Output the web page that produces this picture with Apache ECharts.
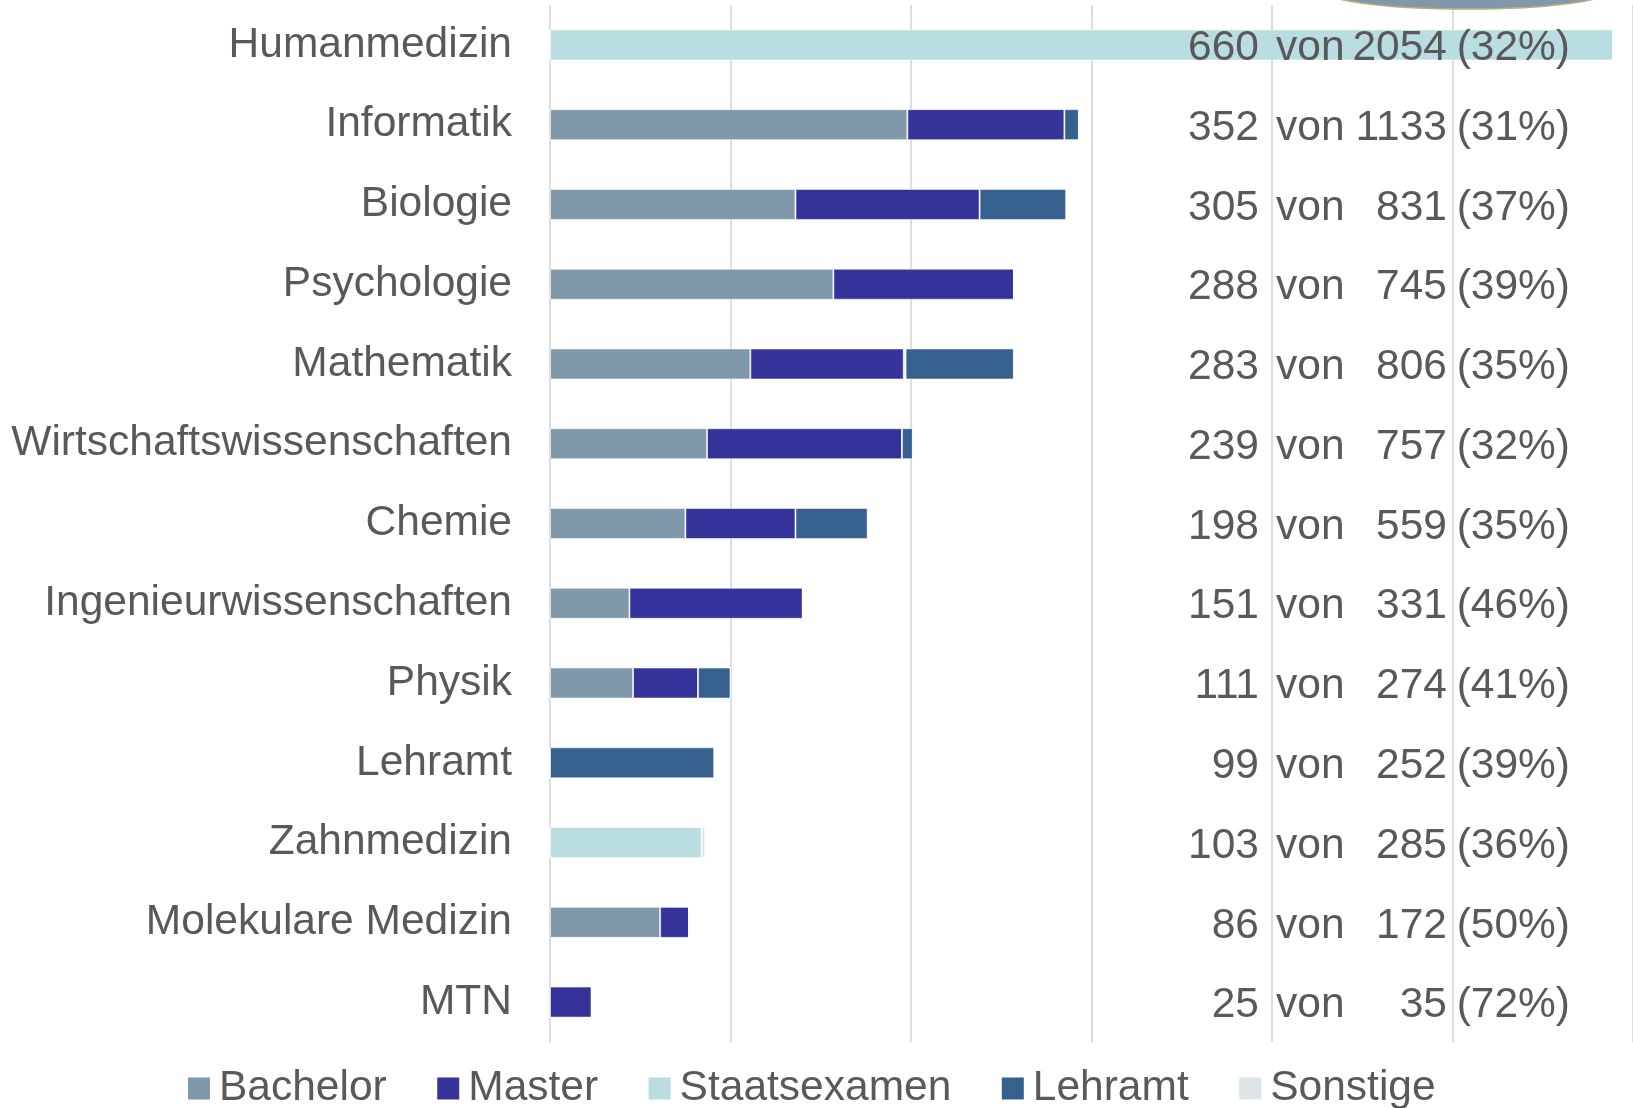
<!DOCTYPE html>
<html>
<head>
<meta charset="utf-8">
<script src="https://cdn.jsdelivr.net/npm/echarts@6/dist/echarts.min.js"></script>
<style>html,body{margin:0;padding:0;background:#fff;} #main{width:1633px;height:1108px;}</style>
</head>
<body>
<div id="main"></div>
<script>
var faecher = ['Humanmedizin', 'Informatik', 'Biologie', 'Psychologie', 'Mathematik', 'Wirtschaftswissenschaften', 'Chemie', 'Ingenieurwissenschaften', 'Physik', 'Lehramt', 'Zahnmedizin', 'Molekulare Medizin', 'MTN'];
var bachelor     = [0, 198, 136, 157, 111, 87, 75, 44, 46, 0, 0, 61, 0];
var master       = [0, 87, 102, 100, 85, 108, 61, 96, 36, 0, 0, 16, 23];
var staatsexamen = [589, 0, 0, 0, 1, 0, 0, 0, 0, 0, 84, 0, 0];
var lehramt      = [0, 8, 48, 0, 60, 6, 40, 0, 18, 91, 0, 0, 0];
var sonstige     = [0, 0, 0, 0, 0, 0, 0, 0, 0, 0, 2, 0, 0];
var anzahl = [660, 352, 305, 288, 283, 239, 198, 151, 111, 99, 103, 86, 25];
var gesamt = [2054, 1133, 831, 745, 806, 757, 559, 331, 274, 252, 285, 172, 35];
var prozent = [32, 31, 37, 39, 35, 32, 35, 46, 41, 39, 36, 50, 72];

var textColor = '#595959';
var fontName = '"Liberation Sans", Arial, sans-serif';
var fs = 42.5;

var chart = echarts.init(document.getElementById('main'));

function balken(name, data, color) {//ein gestapelter Balken
    return {name: name, type: 'bar', stack: 'alle', data: data, barWidth: 31, yAxisIndex: 0,
        itemStyle: {color: color, borderColor: 'rgba(255,255,255,0.55)', borderWidth: 1}};
}

function rechteAchse(margin, formatter, rich) {//Textspalten rechts, als Achsenbeschriftung
    return {type: 'category', data: faecher, inverse: true, position: 'right', z: 10, axisTick: {show: false}, axisLine: {show: false},
        axisLabel: {inside: true, margin: margin, fontSize: fs, color: textColor, fontFamily: fontName, padding: [7, 0, 0, 0],
            formatter: formatter, rich: rich}};
}

option = {
    animation: false,
    textStyle: {fontFamily: fontName},
    grid: {left: 550, top: 5, width: 1086, height: 1037},
    xAxis: {type: 'value', min: 0, max: 600, interval: 100, axisLabel: {show: false}, axisLine: {show: false}, axisTick: {show: false},
        splitLine: {lineStyle: {color: '#d6d6d6', width: 1.6}}},
    yAxis: [
        {type: 'category', data: faecher, inverse: true, axisTick: {show: false}, axisLine: {show: false},
            axisLabel: {margin: 38, fontSize: fs, color: textColor, fontFamily: fontName, padding: [8, 0, 0, 0]}},
        rechteAchse(374, function (v, i) { return '' + anzahl[i]; }, {}),
        rechteAchse(63, function (v, i) {
            return '{b|von}{c|' + gesamt[i] + '}{d|(' + prozent[i] + '%)}';
        }, {
            b: {width: 78, align: 'left', fontSize: fs, color: textColor},
            c: {width: 93, align: 'right', fontSize: fs, color: textColor},
            d: {width: 123, align: 'right', fontSize: fs, color: textColor}
        })
    ],
    legend: {left: 183, top: 1062, itemWidth: 22, itemHeight: 22, itemGap: 50.5, icon: 'rect',
        itemStyle: {borderWidth: 0},
        textStyle: {fontSize: fs, color: textColor, padding: [0, 0, 0, 4], fontFamily: fontName},
        data: ['Bachelor', 'Master', 'Staatsexamen', 'Lehramt', 'Sonstige']},
    graphic: [{type: 'ellipse', z: 100, shape: {cx: 1467, cy: -10, rx: 145, ry: 19},
        style: {fill: '#7f99ab', stroke: '#b8ae7e', lineWidth: 1.5}}],
    series: [
        balken('Bachelor', bachelor, '#7f99ab'),
        balken('Master', master, '#353399'),
        balken('Staatsexamen', staatsexamen, '#badde1'),
        balken('Lehramt', lehramt, '#36618f'),
        balken('Sonstige', sonstige, '#dde4e8')
    ]
};

chart.setOption(option);
</script>
</body>
</html>
